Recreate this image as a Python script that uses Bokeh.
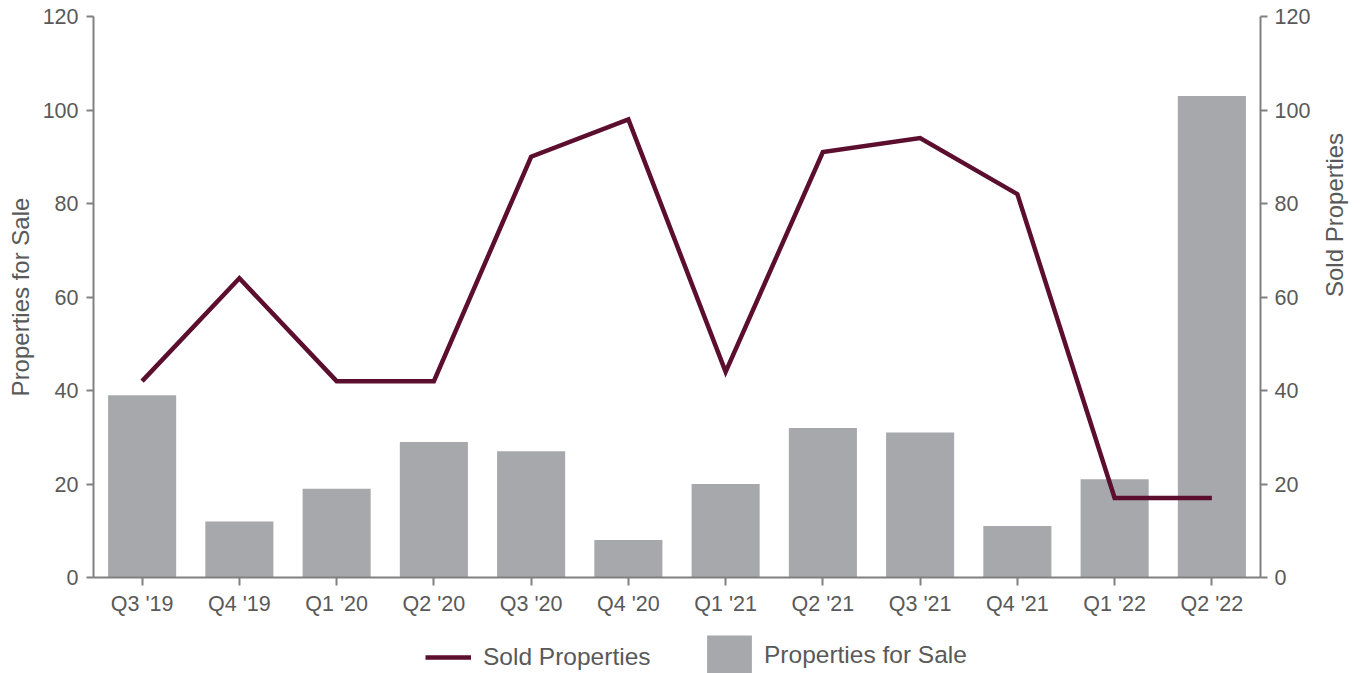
import math
from bokeh.plotting import figure
from bokeh.layouts import column
from bokeh.models import Range1d, LinearAxis, FactorRange, Legend, LegendItem, ColumnDataSource
from bokeh.embed import file_html
from bokeh.resources import INLINE

quarters = ["Q3 '19", "Q4 '19", "Q1 '20", "Q2 '20", "Q3 '20", "Q4 '20",
            "Q1 '21", "Q2 '21", "Q3 '21", "Q4 '21", "Q1 '22", "Q2 '22"]
for_sale = [39, 12, 19, 29, 27, 8, 20, 32, 31, 11, 21, 103]
sold = [42, 64, 42, 42, 90, 98, 44, 91, 94, 82, 17, 17]
y_ticks = [0, 20, 40, 60, 80, 100, 120]

src = ColumnDataSource(dict(q=quarters, for_sale=for_sale, sold=sold))

FONT = "Liberation Sans"
AX = "#808080"
TXT = "#595959"
BAR = "#a7a8ab"
LINE = "#5c0e2e"
W = 1364
FL, FR = 93, 1264

p = figure(width=W, height=620, x_range=FactorRange(*quarters, range_padding=0),
           y_range=Range1d(0, 120), output_backend="svg", toolbar_location=None,
           min_border_left=FL, min_border_right=W - FR, min_border_top=16, min_border_bottom=43)
p.extra_y_ranges = {"sold": Range1d(0, 120)}
p.outline_line_color = None
p.xgrid.visible = False
p.ygrid.visible = False

p.vbar(x="q", top="for_sale", width=0.7, source=src, fill_color=BAR, line_color=None)
p.line(x="q", y="sold", source=src, line_color=LINE, line_width=4.5, y_range_name="sold",
       line_join="miter")

right = LinearAxis(y_range_name="sold", axis_label="Sold Properties")
p.add_layout(right, "right")

for ax in [p.yaxis[0], right, p.xaxis[0]]:
    ax.axis_line_color = AX
    ax.axis_line_width = 2
    ax.major_tick_line_color = AX
    ax.major_tick_line_width = 2
    ax.major_tick_in = 0
    ax.major_tick_out = 7
    ax.minor_tick_line_color = None
    ax.major_label_text_font = FONT
    ax.major_label_text_font_size = "21.5px"
    ax.major_label_text_color = TXT
    ax.axis_label_text_font = FONT
    ax.axis_label_text_font_size = "24px"
    ax.axis_label_text_color = TXT
    ax.axis_label_text_font_style = "normal"

p.yaxis[0].axis_label = "Properties for Sale"
p.yaxis[0].ticker = y_ticks
right.ticker = y_ticks
p.yaxis[0].major_label_standoff = 8
right.major_label_standoff = 7
p.yaxis[0].axis_label_standoff = 6
right.axis_label_standoff = 21
if "axis_label_orientation" in right.properties():
    right.axis_label_orientation = math.pi / 2
p.xaxis[0].major_tick_out = 8
p.xaxis[0].major_label_standoff = 6

# legend strip
lg = figure(width=W, height=53, x_range=Range1d(0, 1), y_range=Range1d(0, 1),
            output_backend="svg", toolbar_location=None,
            min_border_left=FL, min_border_right=W - FR, min_border_top=0, min_border_bottom=0)
lg.axis.visible = False
lg.grid.visible = False
lg.outline_line_color = None
dummy = ColumnDataSource(dict(x=[0.5], y=[0.0]))
r_line = lg.line(x="x", y="y", source=dummy, line_color=LINE, line_width=4.5)
r_bar = lg.vbar(x="x", top="y", bottom=0, width=0.0, source=dummy, fill_color=BAR, line_color=None)

common = dict(orientation="horizontal", label_text_font=FONT, label_text_font_size="24.5px",
              label_text_color=TXT, border_line_color=None, background_fill_alpha=0,
              padding=0, margin=0)
legend1 = Legend(items=[LegendItem(label="Sold Properties", renderers=[r_line])],
                 location=(425 - FL, -3), glyph_width=46, glyph_height=38, label_standoff=12,
                 **common)
legend2 = Legend(items=[LegendItem(label="Properties for Sale", renderers=[r_bar])],
                 location=(701 - FL, -7), glyph_width=56, glyph_height=50, label_standoff=7,
                 **common)
lg.add_layout(legend1, "center")
lg.add_layout(legend2, "center")

layout = column(p, lg, spacing=0)
open("out.html", "w").write(file_html(layout, INLINE))
